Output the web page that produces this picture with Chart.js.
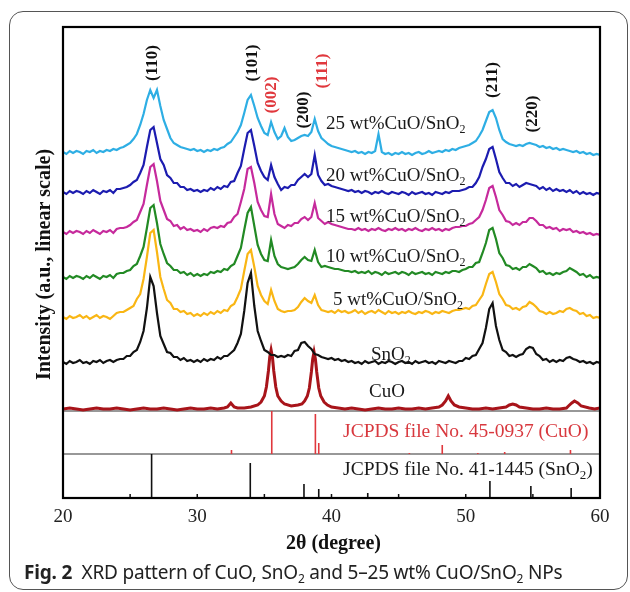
<!DOCTYPE html>
<html>
<head>
<meta charset="utf-8">
<title>XRD pattern of CuO, SnO2 and CuO/SnO2</title>
<script src="https://cdn.jsdelivr.net/npm/chart.js@4"></script>
<style>
    html, body { margin: 0; padding: 0; background: #fff; }
    #wrap { position: relative; width: 630px; height: 592px; overflow: hidden; }
    #frame { position: absolute; left: 9px; top: 11px; width: 619px; height: 579px; box-sizing: border-box;
             border: 1.3px solid #555; border-radius: 14px; }
    canvas { position: absolute; left: 0; top: 0; }
    #caption { position: absolute; left: 24px; top: 559px; font-family: 'Noto Sans', sans-serif; font-size: 19px;
               color: #222; white-space: nowrap; letter-spacing: -0.2px; }
    #caption sub { font-size: 12px; vertical-align: -4px; line-height: 0; }
</style>
</head>
<body>
<div id="wrap">
    <div id="frame"></div>
    <canvas id="xrd" width="630" height="592"></canvas>
    <div id="caption"><b>Fig. 2</b>&nbsp; XRD pattern of CuO, SnO<sub>2</sub> and 5–25 wt% CuO/SnO<sub>2</sub> NPs</div>
</div>

<script>
    // 2θ grid shared by the SnO2 and composite patterns (degree)
    const twoTheta = [
        20,20.25,20.5,20.75,21,21.25,21.5,21.75,22,22.25,22.5,22.75,23,23.25,23.5,23.75,24,24.25,24.5,24.75,
        25,25.25,25.5,25.75,26,26.25,26.5,26.75,27,27.25,27.5,27.75,28,28.25,28.5,28.75,29,29.25,29.5,29.75,
        30,30.25,30.5,30.75,31,31.25,31.5,31.75,32,32.25,32.5,32.75,33,33.25,33.5,33.75,34,34.25,34.5,34.75,
        35,35.25,35.5,35.75,36,36.25,36.5,36.75,37,37.25,37.5,37.75,38,38.25,38.5,38.75,39,39.25,39.5,39.75,
        40,40.25,40.5,40.75,41,41.25,41.5,41.75,42,42.25,42.5,42.75,43,43.25,43.5,43.75,44,44.25,44.5,44.75,
        45,45.25,45.5,45.75,46,46.25,46.5,46.75,47,47.25,47.5,47.75,48,48.25,48.5,48.75,49,49.25,49.5,49.75,
        50,50.25,50.5,50.75,51,51.25,51.5,51.75,52,52.25,52.5,52.75,53,53.25,53.5,53.75,54,54.25,54.5,54.75,
        55,55.25,55.5,55.75,56,56.25,56.5,56.75,57,57.25,57.5,57.75,58,58.25,58.5,58.75,59,59.25,59.5,59.75,
        60
    ];

    // intensities (a.u., curves already stacked with their offsets)
    const sno2 = [
        136,134,137,135,136,138,135,136,134,137,136,138,135,137,138,136,138,139,139,142,
        142,146,148,156,167,190,221,212,185,162,154,146,145,141,141,138,140,137,138,136,
        138,136,139,137,139,138,141,139,142,142,145,148,155,164,187,215,225,192,167,157,
        148,146,143,143,141,142,141,143,142,147,148,155,156,152,149,144,143,141,140,139,
        140,138,139,137,138,136,137,135,136,134,137,135,136,137,134,136,135,137,136,134,
        136,137,135,136,134,137,135,136,137,135,136,134,137,136,135,137,136,135,137,137,
        140,139,142,143,149,155,170,189,195,172,158,148,146,142,143,141,143,144,149,151,
        150,144,142,138,139,136,138,136,138,137,140,141,139,138,136,137,135,136,134,136,
        135
    ];
    const wt5 = [
        181,179,182,180,181,183,180,182,179,181,183,180,182,181,179,182,185,186,186,188,
        190,192,199,204,219,241,265,268,246,221,209,198,195,189,189,186,187,184,185,182,
        184,182,185,183,186,184,187,185,188,187,192,194,201,209,227,244,248,231,212,203,
        197,194,208,197,189,187,186,187,187,188,191,196,200,197,195,203,193,188,187,186,
        187,185,188,186,187,185,186,188,185,187,184,186,187,185,188,186,184,187,185,186,
        184,186,185,187,185,184,186,185,187,186,184,186,185,187,186,185,187,188,188,189,
        190,189,192,193,198,203,214,224,226,216,204,199,193,192,189,190,188,191,192,196,
        194,191,187,186,184,186,184,185,187,186,189,190,188,187,184,185,182,183,180,181,
        180
    ];
    const wt10 = [
        221,219,222,220,222,221,219,222,220,223,221,219,222,221,223,220,224,225,225,227,
        228,232,234,242,251,270,290,293,275,254,244,235,232,228,228,225,226,223,225,222,
        224,222,224,223,226,225,227,226,229,228,232,234,242,250,268,285,291,272,253,244,
        238,237,258,242,234,231,230,229,230,231,234,238,241,238,237,248,236,231,232,231,
        230,229,229,228,227,227,226,227,225,226,225,227,224,226,225,223,226,224,225,226,
        224,226,225,223,226,224,225,226,224,225,223,226,225,224,226,225,227,227,226,228,
        229,231,231,235,236,245,255,268,270,259,245,240,233,232,229,230,228,231,231,234,
        232,230,226,227,224,225,223,225,224,226,227,230,228,226,223,224,221,223,220,221,
        220
    ];
    const wt15 = [
        266,264,267,265,267,266,264,267,265,268,266,264,267,266,268,265,269,270,270,271,
        273,276,278,286,294,313,331,334,317,297,288,279,277,272,273,269,271,268,269,267,
        268,266,269,267,270,271,270,272,271,275,276,281,284,296,309,329,331,315,296,288,
        282,281,304,284,274,272,270,273,272,275,275,279,281,278,281,295,280,277,274,276,
        274,273,272,271,270,269,269,268,270,268,269,267,269,268,270,268,267,269,268,270,
        268,269,267,269,268,270,268,267,269,268,270,268,269,267,269,268,270,271,271,272,
        272,274,275,278,281,288,298,310,312,301,288,283,277,276,273,275,273,276,276,280,
        280,277,273,273,270,271,269,270,267,269,268,269,266,267,265,266,264,265,263,264,
        263
    ];
    const wt20 = [
        306,304,307,305,307,306,304,307,305,308,306,304,307,306,308,305,309,309,310,311,
        313,316,318,325,333,351,368,371,355,339,333,323,320,315,315,311,311,308,309,307,
        308,306,308,307,310,308,311,309,312,311,316,317,325,332,349,365,368,352,335,327,
        321,318,333,321,314,308,311,310,313,313,318,321,324,321,324,343,323,317,313,314,
        312,311,310,309,308,307,308,306,307,305,307,306,304,306,305,307,305,304,306,305,
        304,306,305,303,306,304,305,306,304,305,303,306,305,304,306,305,307,307,307,308,
        309,311,311,315,321,331,339,349,351,339,326,320,315,315,312,314,311,313,315,314,
        313,312,309,311,308,310,307,309,307,308,306,308,305,307,304,306,304,305,303,305,
        304
    ];
    const wt25 = [
        346,344,347,345,347,346,344,347,346,348,345,347,346,348,347,349,348,350,351,353,
        355,359,364,373,384,398,408,400,408,392,378,369,360,355,353,351,350,349,348,349,
        347,348,346,348,347,349,348,350,351,354,356,361,366,373,385,398,403,392,380,372,
        365,363,376,366,359,362,370,361,357,358,360,362,363,362,366,379,367,360,357,354,
        352,351,350,349,348,347,346,347,345,346,344,346,345,347,364,346,344,345,343,345,
        344,346,344,345,343,345,346,344,345,347,345,346,347,346,348,347,349,348,350,351,
        352,353,355,357,362,368,377,386,388,380,368,359,356,354,353,352,353,352,354,355,
        354,353,351,352,350,351,349,350,348,349,348,347,346,347,345,346,344,345,343,344,
        343
    ];

    // pure CuO pattern has narrow peaks, so it gets its own 2θ points
    const cuoTheta = [
        20,20.5,21,21.5,22,22.5,23,23.5,24,24.5,25,25.5,26,26.5,27,27.5,28,28.5,29,29.5,30,30.5,31,31.5,
        32,32.25,32.5,32.75,33,33.5,34,34.5,34.75,35,
        35.15,35.3,35.4,35.5,35.6,35.7,35.85,36,36.25,36.5,37,37.5,37.8,38,
        38.2,38.35,38.5,38.6,38.7,38.8,38.9,39.05,39.2,39.45,39.7,40,
        40.5,41,41.5,42,42.5,43,43.5,44,44.5,45,45.5,46,46.5,47,47.5,48,
        48.25,48.5,48.7,48.9,49.15,49.5,50,50.5,51,51.5,52,52.5,53,53.25,53.5,53.75,54,
        54.5,55,55.5,56,56.5,57,57.5,57.65,57.9,58.1,58.35,58.6,59.2,59.6,60
    ];
    const cuo = [
        89,90,89,88,89,90,89,89,90,89,88,89,90,89,89,90,89,88,89,90,89,89,90,89,
        90,91,95,91,90,90,91,93,96,102,
        111,127,141,148,141,127,111,102,97,94,92,93,94,97,
        102,110,126,139,146,139,126,110,102,96,93,91,
        90,89,90,89,88,89,90,89,89,90,89,89,90,89,90,91,
        93,97,102,97,93,91,90,89,89,90,89,90,91,93,94,93,91,
        90,89,89,90,89,89,90,92,95,97,95,92,90,89,90
    ];

    // reference patterns (stick positions and stick tops)
    const cuoCardPos = [32.55, 35.55, 38.8, 39.05, 45.8, 48.25, 50.9, 52.9, 57.8];
    const cuoCardTop = [48, 87, 84, 55, 45, 53, 45, 46, 48];
    const sno2CardPos = [26.6, 33.95, 37.95, 39.05, 42.7, 51.8, 54.85, 57.85];
    const sno2CardTop = [44, 35, 14, 9, 5, 17, 12, 10];
    const panelLines = [44, 87];
    const innerTicks = [25, 30, 35, 40, 45, 50, 55];

    // annotations: text, 2θ, intensity
    const hklText = ['(110)', '(101)', '(002)', '(200)', '(111)', '(211)', '(220)'];
    const hklX = [26.7, 34.15, 35.57, 37.95, 39.37, 52.03, 55.0];
    const hklY = [435, 435, 403, 388, 427, 418, 384];
    const hklRed = [false, false, true, false, true, false, false];

    const curveText = ['25 wt%CuO/SnO_2', '20 wt%CuO/SnO_2', '15 wt%CuO/SnO_2', '10 wt%CuO/SnO_2',
                       '5 wt%CuO/SnO_2', 'SnO_2', 'CuO', 'JCPDS file No. 45-0937 (CuO)', 'JCPDS file No. 41-1445 (SnO_2)'];
    const curveTextX = [39.59, 39.59, 39.59, 39.59, 40.11, 42.94, 42.8, 40.86, 40.86];
    const curveTextY = [374, 322, 281, 241, 198, 143, 106, 66, 28];
    const curveTextRed = [false, false, false, false, false, false, false, true, false];

    const SERIF = '"Liberation Serif", "Times New Roman", serif';
    const RED = '#e0383d';

    function series(xs, ys) {
        return xs.map((x, i) => ({ x: x, y: ys[i] }));
    }

    function sticks(pos, top, base) {
        const pts = [];
        pos.forEach((p, i) => {
            pts.push({ x: p, y: base }, { x: p, y: top[i] }, { x: p, y: null });
        });
        return pts;
    }

    function lineSet(data, color, width) {
        return { data: data, borderColor: color, borderWidth: width, pointRadius: 0,
                 tension: 0, fill: false, spanGaps: false };
    }

    // "SnO_2" -> SnO + subscript 2
    function drawRich(ctx, str, px, py, size, color) {
        const parts = str.split(/_(\d)/).map((t, i) => ({ t: t, sub: i % 2 === 1 })).filter(p => p.t);
        const mainFont = size + 'px ' + SERIF;
        const subFont = Math.round(size * 0.65) + 'px ' + SERIF;
        ctx.fillStyle = color;
        ctx.textAlign = 'left';
        ctx.textBaseline = 'middle';
        let cx = px;
        parts.forEach(p => {
            ctx.font = p.sub ? subFont : mainFont;
            ctx.fillText(p.t, cx, py + (p.sub ? size * 0.3 : 0));
            cx += ctx.measureText(p.t).width;
        });
    }

    const decor = {
        id: 'decor',
        afterDraw(chart) {
            const { ctx, chartArea: a, scales: { x, y } } = chart;
            ctx.save();

            // inward ticks on the bottom axis
            ctx.strokeStyle = '#111';
            ctx.lineWidth = 1.5;
            innerTicks.forEach(t => {
                const px = x.getPixelForValue(t);
                ctx.beginPath();
                ctx.moveTo(px, a.bottom);
                ctx.lineTo(px, a.bottom - 4);
                ctx.stroke();
            });

            // plot box
            ctx.strokeStyle = '#000';
            ctx.lineWidth = 2.2;
            ctx.strokeRect(a.left, a.top, a.right - a.left, a.bottom - a.top);

            // Miller indices
            ctx.font = 'bold 17px ' + SERIF;
            ctx.textAlign = 'center';
            ctx.textBaseline = 'middle';
            hklText.forEach((t, i) => {
                ctx.save();
                ctx.translate(x.getPixelForValue(hklX[i]), y.getPixelForValue(hklY[i]));
                ctx.rotate(-Math.PI / 2);
                ctx.fillStyle = hklRed[i] ? RED : '#111';
                ctx.fillText(t, 0, 0);
                ctx.restore();
            });

            // curve names
            curveText.forEach((t, i) => {
                const size = i >= 7 ? 19.5 : 19;
                drawRich(ctx, t, x.getPixelForValue(curveTextX[i]), y.getPixelForValue(curveTextY[i]),
                         size, curveTextRed[i] ? '#d8383e' : '#1a1a1a');
            });

            // axis titles
            ctx.fillStyle = '#111';
            ctx.font = 'bold 20px ' + SERIF;
            ctx.textAlign = 'center';
            ctx.textBaseline = 'middle';
            ctx.fillText('2θ (degree)', (a.left + a.right) / 2 + 2, a.bottom + 46);
            ctx.save();
            ctx.translate(a.left - 18, (a.top + a.bottom) / 2 + 2);
            ctx.rotate(-Math.PI / 2);
            ctx.fillText('Intensity (a.u., linear scale)', 0, 0);
            ctx.restore();

            ctx.restore();
        }
    };

    const datasets = [
        lineSet(series(twoTheta, wt25), '#2eaee4', 2.2),
        lineSet(series(twoTheta, wt20), '#1c1cb0', 2.2),
        lineSet(series(twoTheta, wt15), '#c62a9c', 2.2),
        lineSet(series(twoTheta, wt10), '#228a24', 2.2),
        lineSet(series(twoTheta, wt5), '#f9b614', 2.2),
        lineSet(series(twoTheta, sno2), '#111111', 2.2),
        lineSet(series(cuoTheta, cuo), '#a8141a', 3),
        lineSet(sticks(cuoCardPos, cuoCardTop, 44), RED, 1.6),
        lineSet(sticks(sno2CardPos, sno2CardTop, 0), '#111111', 1.6),
        lineSet(panelLines.map(v => [{ x: 20, y: v }, { x: 60, y: v }, { x: 60, y: null }]).flat(), '#333333', 1.2)
    ];

    new Chart(document.getElementById('xrd'), {
        type: 'line',
        data: { datasets: datasets },
        options: {
            responsive: false,
            animation: false,
            devicePixelRatio: 1,
            events: [],
            layout: { padding: { left: 63, right: 30, top: 27, bottom: 0 } },
            plugins: { legend: { display: false }, tooltip: { enabled: false } },
            scales: {
                x: {
                    type: 'linear',
                    min: 20,
                    max: 60,
                    grid: { display: false, drawTicks: false },
                    border: { display: false },
                    ticks: { stepSize: 10, maxRotation: 0, padding: 8, color: '#222',
                             font: { family: SERIF, size: 19 } },
                    afterFit: s => { s.height = 94; }
                },
                y: { display: false, min: 0, max: 471 }
            }
        },
        plugins: [decor]
    });
</script>
</body>
</html>
